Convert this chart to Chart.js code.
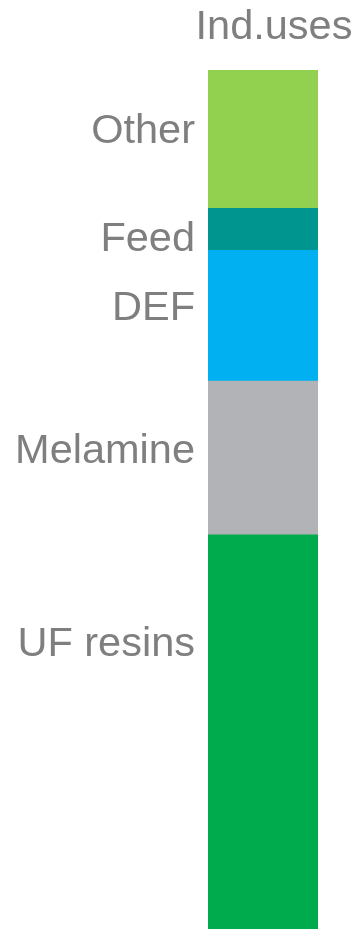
<!DOCTYPE html>
<html>
<head>
<meta charset="utf-8">
<script src="https://cdn.jsdelivr.net/npm/chart.js@4"></script>
<style>
    html, body { margin: 0; padding: 0; background: #ffffff; }
    #wrap { width: 359px; height: 929px; }
</style>
</head>
<body>
<div id="wrap"><canvas id="myUsesChart"></canvas></div>
<script>
// data (share of industrial uses, %)
const categories = ['Ind.uses'];
const segmentNames = ['UF resins', 'Melamine', 'DEF', 'Feed', 'Other'];
const segmentValues = [45.9, 17.9, 15.2, 4.9, 16.1];
const segmentColors = ['#00AB4E', '#B1B3B6', '#00B0F0', '#00968F', '#92D050'];

// label nudges in px, the labels in the source are not exactly centred
const labelNudge = { 'UF resins': -87, 'Melamine': -6, 'DEF': -7, 'Feed': 10, 'Other': -8 };

const textGrey = '#7F7F7F';
const fontFamily = "'Liberation Sans', Arial, sans-serif";

const segmentLabels = {
    id: 'segmentLabels',
    afterDatasetsDraw(chart) {
        const ctx = chart.ctx;
        ctx.save();
        ctx.font = `41.5px ${fontFamily}`;
        ctx.fillStyle = textGrey;
        ctx.textBaseline = 'middle';
        ctx.textAlign = 'right';
        chart.data.datasets.forEach(function (ds, i) {
            const bar = chart.getDatasetMeta(i).data[0];
            const y = (bar.y + bar.base) / 2 + (labelNudge[ds.label] || 0);
            ctx.fillText(ds.label, bar.x - bar.width / 2 - 13, y);
        });
        // category name above the column
        const top = chart.getDatasetMeta(0).data[0];
        ctx.textAlign = 'center';
        ctx.fillText(chart.data.labels[0], top.x + 11, chart.chartArea.top - 42);
        ctx.restore();
    }
};

const ctx = document.getElementById('myUsesChart').getContext('2d');
const usesChart = new Chart(ctx, {
    type: 'bar',
    data: {
        labels: categories,
        datasets: segmentNames.map(function (name, i) {
            return {
                label: name,
                data: [segmentValues[i]],
                backgroundColor: segmentColors[i],
                borderWidth: 0,
                barPercentage: 1,
                categoryPercentage: 1
            };
        })
    },
    options: {
        responsive: true,
        maintainAspectRatio: false,
        animation: false,
        layout: { padding: { left: 208, right: 41, top: 70, bottom: 0 } },
        plugins: {
            legend: { display: false },
            tooltip: { enabled: false }
        },
        scales: {
            x: {
                stacked: true,
                display: false
            },
            y: {
                stacked: true,
                display: false,
                min: 0,
                max: 100
            }
        }
    },
    plugins: [segmentLabels]
});
</script>
</body>
</html>
